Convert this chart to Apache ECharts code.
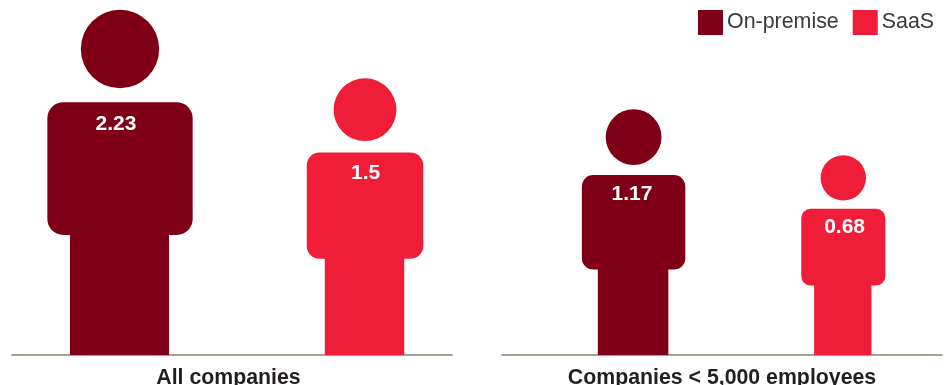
<!DOCTYPE html>
<html>
<head>
<meta charset="utf-8">
<title>Companies by deployment model</title>
<style>html,body{margin:0;padding:0;background:#fff}#chart{width:948px;height:385px}</style>
<script src="https://cdn.jsdelivr.net/npm/echarts@6/dist/echarts.min.js"></script>
</head>
<body>
<div id="chart"></div>
<script>
// Values per panel
const panels = ['All companies', 'Companies < 5,000 employees'];
const deployments = ['On-premise', 'SaaS'];
const onPremise = [2.23, 1.17];
const saas = [1.5, 0.68];

const FONT = '"Liberation Sans", Arial, sans-serif';
const COLORS = { 'On-premise': '#7f0016', 'SaaS': '#ef1d37' };

// Horizontal placement of each figure inside its band, and of its label
const figureNudge = [[-2, 23], [21.6, 11.3]];
const labelNudge = [[-4, 0.7], [-1.6, 1.3]];
const namePadding = [[0, 7, 0, 0], [0, 0, 0, 0]];

// A person drawn uniformly scaled from the axis floor up to the value
function person(panel, slot, color) {
  return function (params, api) {
    const floor = api.coord([api.value(0), -1.45]);
    const top = api.coord([api.value(0), api.value(1)]);
    const h = floor[1] - top[1];
    const cx = floor[0] + figureNudge[panel][slot];
    const y0 = floor[1];
    const style = { fill: color };
    const torsoTop = y0 - 0.732 * h;
    const torsoBottom = y0 - 0.348 * h;
    const torsoHalf = 0.2105 * h;
    const legHalf = 0.1435 * h;
    return {
      type: 'group',
      children: [
        { type: 'circle', shape: { cx: cx, cy: y0 - 0.8865 * h, r: 0.1135 * h }, style: style },
        { type: 'rect', shape: { x: cx - torsoHalf, y: torsoTop, width: 2 * torsoHalf, height: torsoBottom - torsoTop, r: 0.046 * h }, style: style },
        { type: 'rect', shape: { x: cx - legHalf - 0.5, y: torsoBottom - 2, width: 2 * legHalf, height: y0 - torsoBottom + 2 }, style: style },
        {
          type: 'text',
          style: {
            x: cx + labelNudge[panel][slot],
            y: torsoTop + 12 + 0.03 * h,
            text: String(api.value(1)),
            fill: '#ffffff',
            font: 'bold 21px ' + FONT,
            textAlign: 'center',
            textVerticalAlign: 'middle'
          }
        }
      ]
    };
  };
}

function figureSeries(name, values, slot) {
  return values.map(function (v, panel) {
    const row = [slot, v];
    return {
      name: name,
      type: 'custom',
      xAxisIndex: panel,
      yAxisIndex: panel,
      clip: false,
      silent: true,
      z: 1,
      itemStyle: { color: COLORS[name] },
      encode: { x: 0, y: 1 },
      renderItem: person(panel, slot, COLORS[name]),
      data: [row]
    };
  });
}

const chart = echarts.init(document.getElementById('chart'), null, { renderer: 'canvas' });

const grids = [
  { left: 12, width: 440, top: 3.25, height: 351.75, outerBoundsMode: 'none' },
  { left: 502, width: 440, top: 3.25, height: 351.75, outerBoundsMode: 'none' }
];

chart.setOption({
  animation: false,
  backgroundColor: '#ffffff',
  textStyle: { fontFamily: FONT },
  legend: {
    left: 698,
    top: 10,
    padding: 0,
    itemWidth: 25,
    itemHeight: 25,
    itemGap: 14,
    selectedMode: false,
    textStyle: { fontSize: 21.4, color: '#3a3a3c', fontFamily: FONT, padding: [0, 0, 0, -1] },
    data: deployments.map(function (d) {
      return { name: d, icon: 'rect', itemStyle: { color: COLORS[d] } };
    })
  },
  grid: grids,
  xAxis: panels.map(function (p, i) {
    return {
      gridIndex: i,
      type: 'category',
      data: deployments,
      name: p,
      nameLocation: 'middle',
      nameGap: 13,
      nameTextStyle: { fontSize: 21.3, fontWeight: 'bold', color: '#231f20', fontFamily: FONT, padding: namePadding[i] },
      axisTick: { show: false },
      axisLabel: { show: false },
      axisLine: { show: true, onZero: false, lineStyle: { color: '#a89f95', width: 2 } }
    };
  }),
  yAxis: panels.map(function (p, i) {
    return {
      gridIndex: i,
      type: 'value',
      min: -1.45,
      max: 2.3,
      show: false,
      splitLine: { show: false }
    };
  }),
  series: figureSeries('On-premise', onPremise, 0).concat(figureSeries('SaaS', saas, 1))
});
</script>
</body>
</html>
